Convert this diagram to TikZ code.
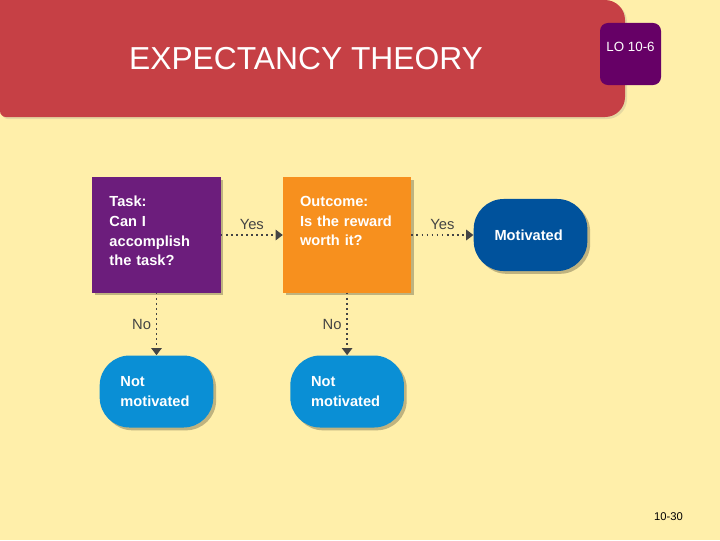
\documentclass[tikz,border=0pt]{standalone}
\usepackage{fontspec}
\setmainfont{Liberation Sans}
\usepackage{tikz}
\usetikzlibrary{arrows.meta,positioning,shadows}
\definecolor{hgrund}{HTML}{FFEFAA}
\definecolor{titelrot}{HTML}{C64045}
\definecolor{loviolett}{HTML}{660066}
\definecolor{aufgabe}{HTML}{6C1D7C}
\definecolor{ergebnis}{HTML}{F7901E}
\definecolor{motiv}{HTML}{00529C}
\definecolor{nichtmotiv}{HTML}{0A8FD5}
\definecolor{grauT}{HTML}{444444}
\tikzset{
  schatten/.style={drop shadow={shadow xshift=0.7mm, shadow yshift=-0.7mm, opacity=0.25, fill=black}},
  kasten/.style={rectangle, fill=#1, text=white, align=left, inner xsep=0.425cm,
                 text width=2.35cm, minimum height=2.875cm, schatten,
                 execute at end node={\vspace{0.2cm}},
                 font=\fontsize{10.4}{14}\selectfont\bfseries},
  pille/.style={rectangle, rounded corners=0.75cm, fill=#1, text=white, align=left,
                inner xsep=0.52cm, text width=1.8cm, minimum height=1.8cm, schatten,
                font=\fontsize{10.4}{14}\selectfont\bfseries},
  lobox/.style={rectangle, rounded corners=0.2cm, fill=loviolett, text=white,
                minimum width=1.525cm, minimum height=1.55cm, text depth=0.35cm,
                font=\fontsize{9.5}{11}\selectfont},
  arr/.style={-{Triangle[length=1.8mm,width=2.6mm]}, line width=1.2pt,
              dash pattern=on 1.2pt off 2.4pt, draw=grauT},
  lab/.style={font=\fontsize{10.5}{12}\selectfont, text=grauT},
}
\begin{document}
\begin{tikzpicture}[x=0.025cm, y=-0.025cm, node distance=1.55cm]
  \useasboundingbox (0,0) rectangle (720,540);
  \fill[hgrund] (0,0) rectangle (720,540);
  \fill[titelrot, drop shadow={shadow xshift=0.5mm, shadow yshift=-0.5mm, opacity=0.2}]
    (0,60) -- (0,0) [rounded corners=0.5cm] -- (625,0) -- (625,117)
    [rounded corners=0.15cm] -- (0,117) -- cycle;
  \node[font=\fontsize{22.6}{27}\selectfont, text=white] (titel) at (306,58.5) {EXPECTANCY THEORY};
  \node[lobox] (lo) at (630.5,54) {LO 10-6};

  \node[kasten=aufgabe] (task) at (156.5,235) {Task:\\Can I\\accomplish\\the task?};
  \node[kasten=ergebnis, right=of task] (outcome) {Outcome:\\Is the reward\\worth it?\\\mbox{}};
  \node[pille=motiv, right=of outcome] (motiv) {Motivated};
  \node[pille=nichtmotiv, below=1.56cm of task] (nm1) {Not\\motivated};
  \node[pille=nichtmotiv, below=1.56cm of outcome] (nm2) {Not\\motivated};

  \draw[arr] (task) -- node[lab, above] {Yes} (outcome);
  \draw[arr] (outcome) -- node[lab, above] {Yes} (motiv);
  \draw[arr] (task) -- node[lab, left] {No} (nm1);
  \draw[arr] (outcome) -- node[lab, left] {No} (nm2);

  \node[font=\fontsize{8}{10}\selectfont] (seite) at (668.5,517) {10-30};
\end{tikzpicture}
\end{document}
